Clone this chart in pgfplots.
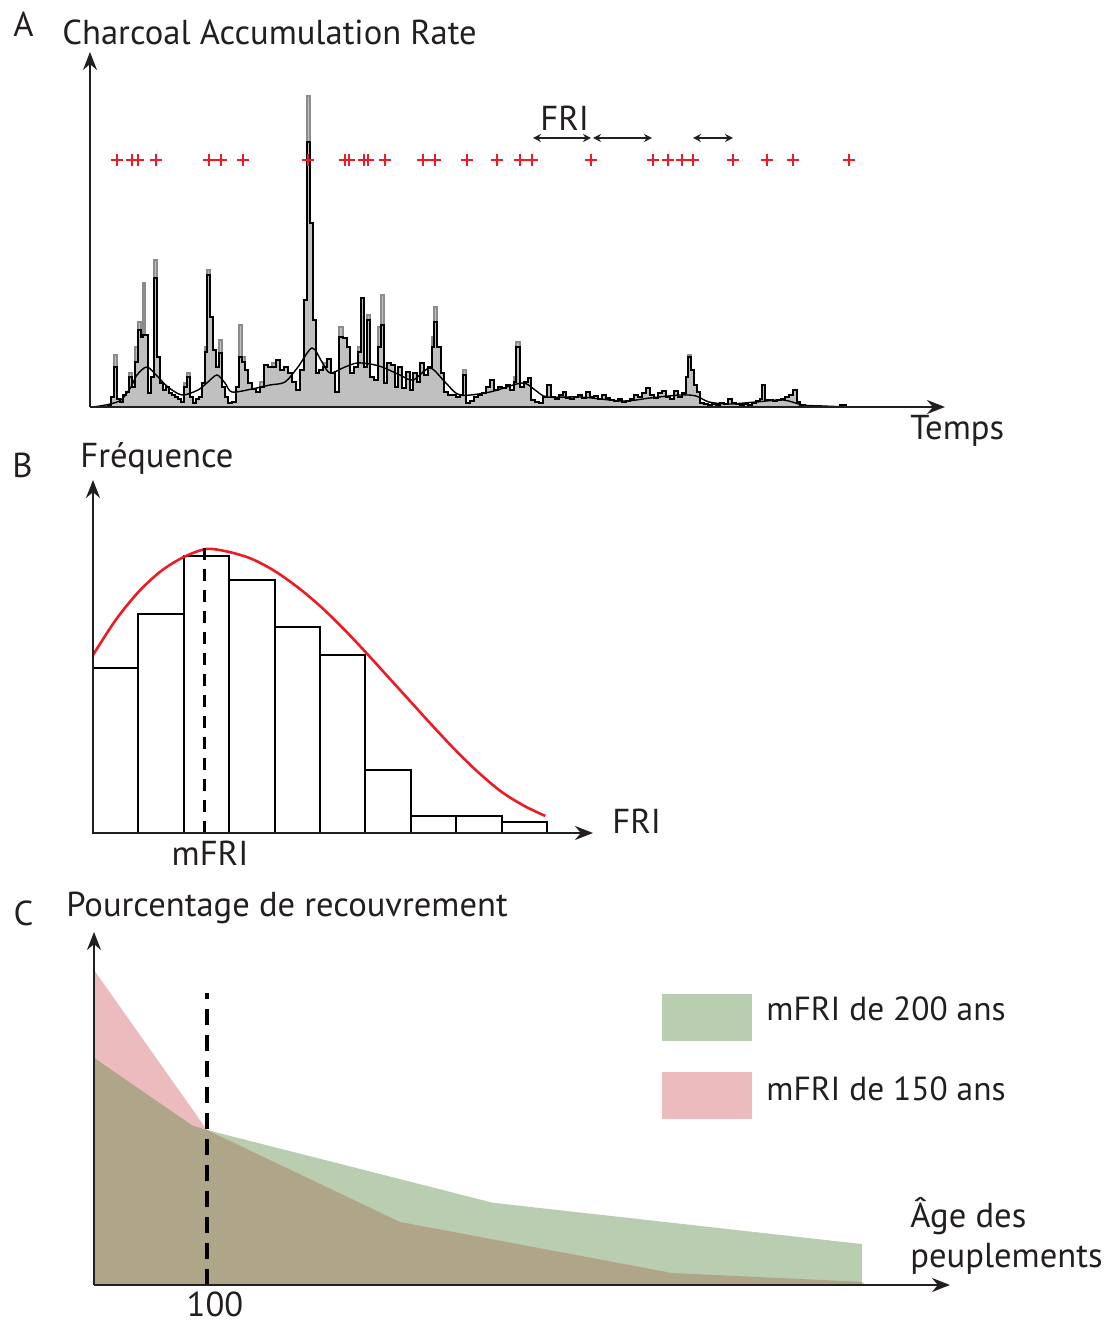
\documentclass[border=0pt]{standalone}
\usepackage{pgfplots}
\pgfplotsset{compat=1.18}
\usepackage{pgfplotstable}
\usetikzlibrary{arrows.meta}
\usepackage{fontspec}
\setmainfont{PT Sans}
\definecolor{txt}{RGB}{35,31,32}
\definecolor{charfill}{RGB}{192,192,192}
\definecolor{charedge}{RGB}{140,140,140}
\definecolor{firered}{RGB}{237,28,36}
\definecolor{mfrigreen}{RGB}{185,205,176}
\definecolor{mfripink}{RGB}{235,187,190}
\definecolor{mfriboth}{RGB}{175,165,137}
\newcommand{\lbl}{\fontsize{17.3}{20}\selectfont}
\newcommand{\lbs}{\fontsize{16.7}{20}\selectfont}

\pgfplotstableread{
x g b
105 0 0
108 2 2
111 10 10
114 52 40
117 8 8
120 5 5
123 12 12
126 15 15
129 34 30
132 20 20
135 60 45
138 85 77
141 70 70
143 124 72
145 72 72
148 14 14
151 30 30
154 147 129
157 50 50
160 24 24
163 17 17
166 20 20
169 14 14
172 12 12
175 10 10
178 8 8
181 5 5
184 24 20
187 34 30
190 10 10
193 4 4
196 8 8
199 10 10
202 24 24
205 60 55
207 137 132
210 90 90
213 57 57
216 40 40
219 67 54
222 20 20
225 10 10
228 4 4
232 5 5
236 20 20
239 82 50
242 50 45
245 37 37
248 24 24
252 18 18
256 15 15
260 25 20
264 42 42
268 40 40
272 44 40
276 47 47
280 37 37
284 40 40
288 34 34
292 25 25
296 17 17
300 37 37
304 107 107
307 311 265
310 184 184
313 87 87
316 34 34
319 37 37
323 44 40
327 48 48
331 34 34
335 15 15
339 80 70
343 69 69
347 60 60
350 34 34
354 40 40
358 60 55
361 109 109
364 40 40
367 92 87
370 30 30
374 27 27
378 80 60
381 112 82
384 24 24
387 44 44
391 42 42
395 20 20
398 40 40
402 19 19
406 35 35
410 17 17
413 34 34
417 25 25
420 44 44
424 32 32
428 40 40
432 70 60
434 100 85
437 60 60
441 34 34
444 15 15
448 12 12
452 12 12
456 10 10
460 12 12
463 37 32
466 4 4
470 6 6
474 10 10
478 12 12
482 14 14
486 20 20
490 27 27
494 17 17
498 20 20
502 19 19
506 22 22
510 17 17
514 30 25
516 65 60
520 20 20
524 25 25
528 29 29
531 7 7
535 5 5
539 4 4
543 10 10
547 22 22
551 10 10
555 8 8
559 12 12
563 15 15
566 9 9
570 8 8
574 10 10
578 12 12
582 9 9
586 15 15
590 10 10
594 11 11
598 8 8
602 12 12
606 9 9
610 7 7
614 6 6
618 8 8
622 5 5
626 6 6
630 8 8
634 12 12
638 10 10
642 14 14
646 19 19
650 12 12
654 9 9
658 14 14
662 16 16
666 10 10
670 8 8
674 16 16
678 10 10
682 14 14
686 30 30
688 52 50
691 37 37
694 22 22
697 15 15
700 4 4
704 3 3
708 2 2
712 3 3
716 2 2
720 4 4
724 3 3
728 8 8
732 4 4
736 3 3
740 2 2
744 3 3
748 2 2
752 4 4
756 6 6
760 8 8
762 22 22
765 7 7
769 7 7
773 6 6
777 7 7
781 8 8
785 10 10
789 12 12
793 17 17
797 5 5
800 2 2
805 1 1
810 1 1
820 0 0
840 2 2
846 0 0
850 0 0
}\tabA

\pgfplotstableread{
x y
92 0
100 1
110 3
121 7
131 20
137 32
147 40
158 30
168 20
182 12
198 17
208 25
217 32
225 24
232 15
252 18
270 22
285 25
298 40
312 59
322 45
330 34
345 40
357 44
370 43
382 40
400 32
413 27
430 39
445 25
460 12
490 15
522 24
535 17
547 10
580 10
623 6
650 9
680 12
696 11
709 5
729 3
756 5
783 7
803 2
823 1
850 0
870 0
}\tabAsmooth

\pgfplotstableread{
x y
117 247
132 247
138 247
156 247
209 247
221 247
243 247
308 247
345 247
349 247
364 247
368 247
385 247
423 247
435 247
467 247
497 247
520 247
532 247
591 247
653 247
668 247
682 247
693 247
733 247
767 247
793 247
849 247
}\tabAfires

\pgfplotsset{panel/.style={scale only axis, axis lines=left, enlargelimits=false,
  xtick=\empty, ytick=\empty, clip=false, anchor=south west, axis on top,
  axis line style={line width=1pt, txt, -{Stealth[length=9pt,width=7pt]}}}}

\begin{document}
\begin{tikzpicture}
\useasboundingbox (0,0) rectangle (555pt,662pt);

% ---------- Panel A ----------
\begin{axis}[panel, at={(45pt,458.5pt)}, width=427.5pt, height=177.5pt,
  xmin=90, xmax=945, ymin=0, ymax=355]
\addplot[const plot, fill=charfill, draw=charedge, line width=0.9pt] table[x=x,y=g]{\tabA} \closedcycle;
\addplot[const plot, black, line width=0.6pt] table[x=x,y=b]{\tabA};
\addplot[smooth, black, line width=0.7pt] table{\tabAsmooth};
\addplot[only marks, mark=+, mark size=3.2pt, firered, line width=0.8pt] table{\tabAfires};
\draw[{Stealth[length=4pt,width=4pt]}-{Stealth[length=4pt,width=4pt]}, line width=0.6pt, txt] (axis cs:533,269) -- (axis cs:591,269);
\draw[{Stealth[length=4pt,width=4pt]}-{Stealth[length=4pt,width=4pt]}, line width=0.6pt, txt] (axis cs:593,269) -- (axis cs:652,269);
\draw[{Stealth[length=4pt,width=4pt]}-{Stealth[length=4pt,width=4pt]}, line width=0.6pt, txt] (axis cs:693,269) -- (axis cs:733,269);
\end{axis}

% ---------- Panel B ----------
\begin{axis}[panel, at={(46.5pt,245.5pt)}, width=250pt, height=176.5pt,
  xmin=0, xmax=11.01, ymin=0, ymax=353]
\addplot[ybar interval, draw=black, fill=white, line width=1pt] coordinates {
(0,165) (1,219) (2,277) (3,253) (4,206) (5,178) (6,63) (7,17) (8,17) (9,11) (10,11)};
\addplot[smooth, firered, line width=1.3pt] coordinates {
(0,178) (0.5,213) (1,241) (1.5,262) (2,276) (2.5,284) (3,281) (3.5,274) (4,262) (4.5,246)
(5,227) (5.5,205) (6,181) (6.5,156) (7,131) (7.5,106) (8,82) (8.5,60) (9,41) (9.5,27) (9.96,17)};
\draw[black, line width=1.5pt, dash pattern=on 6pt off 4.5pt] (axis cs:2.46,0) -- (axis cs:2.46,292);
\end{axis}

% ---------- Panel C ----------
\begin{axis}[panel, at={(47pt,19.5pt)}, width=428pt, height=176.5pt,
  xmin=0, xmax=757.5, ymin=0, ymax=112.06]
\addplot[fill=mfrigreen, draw=none] coordinates {
(0,72.1) (87.6,50.5) (100,49.2) (353.1,26.1) (679.6,13.0) (679.6,0)} \closedcycle;
\addplot[fill=mfripink, draw=none] coordinates {
(0,100) (100,49.2) (270.8,20.0) (511.5,3.8) (681,0.8) (681,0)} \closedcycle;
\addplot[fill=mfriboth, draw=none] coordinates {
(0,72.1) (87.6,50.5) (100,49.2) (270.8,20.0) (511.5,3.8) (679.6,1.0) (679.6,0)} \closedcycle;
\draw[black, line width=1.6pt, dash pattern=on 8pt off 5pt] (axis cs:100,0) -- (axis cs:100,92.7);
\end{axis}

% legend boxes
\fill[mfrigreen] (331pt,141.5pt) rectangle (376pt,165pt);
\fill[mfripink] (331pt,102.5pt) rectangle (376pt,126pt);

% ---------- Text ----------
\begin{scope}[every node/.style={text=txt, font=\lbl, inner sep=0pt}]
\node[anchor=base] at (11.75pt,643.5pt) {A};
\node[anchor=base west] at (31pt,639.5pt) {Charcoal Accumulation Rate};
\node[anchor=base west] at (270pt,596.5pt) {FRI};
\node[anchor=base west] at (455pt,442pt) {Temps};
\node[anchor=base] at (11.25pt,423pt) {B};
\node[anchor=base west] at (40pt,428pt) {Fréquence};
\node[anchor=base west] at (306pt,245pt) {FRI};
\node[anchor=base] at (105pt,229pt) {mFRI};
\node[anchor=base] at (11.75pt,199pt) {C};
\node[anchor=base west] at (33pt,203.5pt) {Pourcentage de recouvrement};
\node[anchor=base] at (107.5pt,3.5pt) {100};
\node[anchor=base west] at (455pt,48pt) {Âge des};
\node[anchor=base west] at (455pt,28pt) {peuplements};
\node[anchor=base west, font=\lbs] at (383pt,151.5pt) {mFRI de 200 ans};
\node[anchor=base west, font=\lbs] at (383pt,111.5pt) {mFRI de 150 ans};
\end{scope}
\end{tikzpicture}
\end{document}
